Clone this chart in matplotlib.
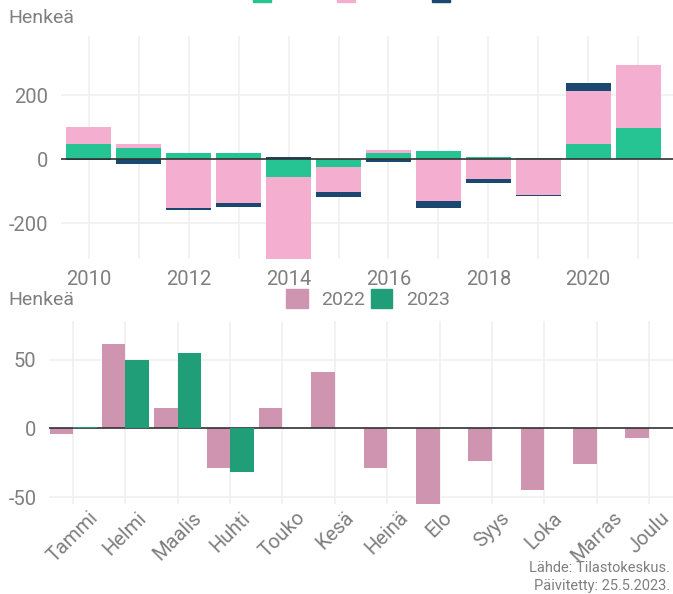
import matplotlib
matplotlib.use("Agg")
import matplotlib.pyplot as plt
import numpy as np
from matplotlib.patches import Patch

plt.rcParams['font.family'] = ['Roboto', 'DejaVu Sans']
plt.rcParams['axes.unicode_minus'] = False

# Ylempi kuvio: väestönmuutos ikäryhmittäin vuosittain
vuodet = [2010, 2011, 2012, 2013, 2014, 2015, 2016, 2017, 2018, 2019, 2020, 2021]
ika_0_14 = [48, 35, 20, 20, -57, -24, 20, 26, 7, 4, 48, 98]
ika_15_64 = [53, 13, -152, -136, -300, -78, 9, -130, -61, -111, 166, 195]
ika_65 = [-3, -14, -8, -12, 7, -15, -10, -24, -15, -5, 25, 2]

# Alempi kuvio: kuukausittainen muutos
kuukaudet = ['Tammi', 'Helmi', 'Maalis', 'Huhti', 'Touko', 'Kesä',
             'Heinä', 'Elo', 'Syys', 'Loka', 'Marras', 'Joulu']
v2022 = [-4, 61, 15, -29, 15, 41, -29, -56, -24, -45, -26, -7]
v2023 = [1, 50, 55, -32]

vihrea = '#26C493'
pinkki = '#F4AFD0'
sininen = '#1A4870'
c2022 = '#CF94B0'
c2023 = '#1F9E77'
harmaa = '#7F7F7F'
grid = '#F0F0F0'

fig = plt.figure(figsize=(6.73, 5.94), dpi=100)

# --- ylempi ---
ax1 = fig.add_axes([61/673, 1-259/594, 612/673, 223/594])
x = np.array(vuodet)
a = np.array(ika_0_14); b = np.array(ika_15_64); c = np.array(ika_65)
pos_base = np.zeros(len(x)); neg_base = np.zeros(len(x))
for vals, col in [(a, vihrea), (b, pinkki), (c, sininen)]:
    base = np.where(vals >= 0, pos_base, neg_base)
    ax1.bar(x, vals, bottom=base, width=0.9, color=col, zorder=2)
    pos_base = pos_base + np.where(vals >= 0, vals, 0)
    neg_base = neg_base + np.where(vals < 0, vals, 0)
ax1.axhline(0, color='#333333', lw=1.2, zorder=3)
ax1.set_xlim(2009.44, 2021.7)
ax1.set_ylim(-312, 385)
ax1.set_yticks([-200, 0, 200])
ax1.set_xticks(range(2010, 2021, 2))
ax1.set_xticks(range(2011, 2022, 2), minor=True)

# --- alempi ---
ax2 = fig.add_axes([49/673, 1-504/594, 624/673, 183/594])
xm = np.arange(len(kuukaudet))
ax2.bar(xm - 0.225, v2022, width=0.45, color=c2022, zorder=2)
ax2.bar(xm[:len(v2023)] + 0.225, v2023, width=0.45, color=c2023, zorder=4)
ax2.axhline(0, color='#333333', lw=1.2, zorder=3)
ax2.set_xlim(-0.46, 11.46)
ax2.set_ylim(-55, 78)
ax2.set_yticks([-50, 0, 50])
ax2.set_xticks(xm)
ax2.set_xticklabels(kuukaudet, rotation=45, ha='center', va='top')

for ax in (ax1, ax2):
    for s in ax.spines.values():
        s.set_visible(False)
    ax.grid(True, which='both', color=grid, lw=1.2, zorder=0)
    ax.tick_params(which='both', length=0, labelsize=14.5, labelcolor=harmaa, pad=9)
ax1.tick_params(axis='x', pad=8)
ax2.tick_params(axis='x', pad=3)

fig.text(8/673, 1-18/594, 'Henkeä', fontsize=14, color=harmaa, va='center', ha='left')
fig.text(8/673, 1-300/594, 'Henkeä', fontsize=14, color=harmaa, va='center', ha='left')

leg1 = [Patch(color=vihrea, label='0-14'), Patch(color=pinkki, label='15-64'),
        Patch(color=sininen, label='65-')]
fig.legend(handles=leg1, loc='center', bbox_to_anchor=(372/673, 1+6/594), ncol=3,
           frameon=False, fontsize=14, labelcolor=harmaa, handlelength=0.95,
           handleheight=1.0, columnspacing=0.7, handletextpad=0.7)

leg2 = [Patch(color=c2022, label='2022'), Patch(color=c2023, label='2023')]
fig.legend(handles=leg2, loc='center', bbox_to_anchor=(368/673, 1-299/594), ncol=2,
           frameon=False, fontsize=14, labelcolor=harmaa, handlelength=1.1,
           handleheight=1.1, columnspacing=0.3, handletextpad=0.7)

fig.text(670/673, 1-568/594, 'Lähde: Tilastokeskus.', fontsize=10.5, color=harmaa,
         ha='right', va='center')
fig.text(670/673, 1-586/594, 'Päivitetty: 25.5.2023.', fontsize=10.5, color=harmaa,
         ha='right', va='center')

fig.savefig('out.png', dpi=100)
